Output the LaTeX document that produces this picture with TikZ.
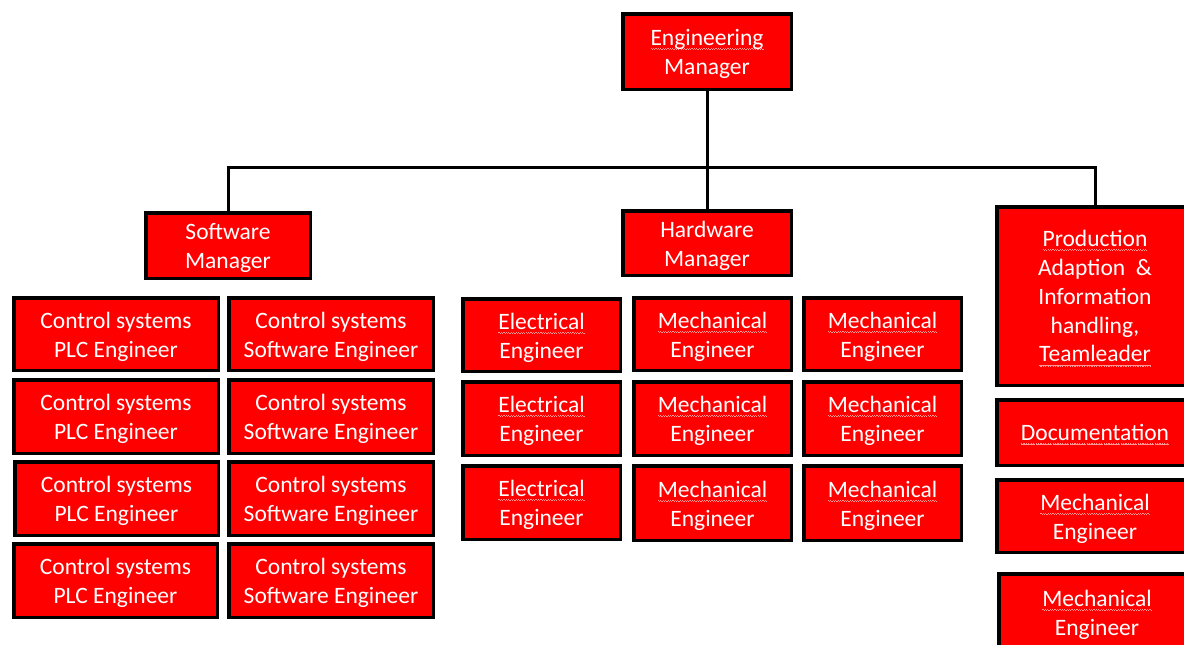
\documentclass[tikz,border=0pt]{standalone}
\usepackage{fontspec}
\newfontfamily\boxfont{Carlito}
\definecolor{boxred}{RGB}{255,0,0}
\definecolor{sqcol}{RGB}{255,150,150}
% spell-check style wavy underline, built from small stepped rules
\newcommand\sqw[1]{\setbox0\hbox{#1}\rlap{\textcolor{sqcol}{\hbox to \wd0{\xleaders\hbox{\vrule height -2.6pt depth 3.7pt width 1.2pt\vrule height -3.5pt depth 4.6pt width 1.2pt}\hfill}}}\box0}
\tikzset{
  box/.style={draw=black, line width=3.5pt, fill=boxred, inner sep=0pt},
  boxtext/.style={text=white, align=center, inner sep=0pt,
    font=\boxfont\fontsize{23.5}{28.8}\selectfont},
  conn/.style={draw=black, line width=3pt, line join=miter}
}
% \bx{name}{x1}{y1}{x2}{y2}{text}: box by its outer edges, label set a little low
\newcommand\bx[6]{\node[box, minimum width={#4pt-#2pt-3.5pt}, minimum height={#5pt-#3pt-3.5pt}]
  (#1) at ({(#2+#4)/2},{(#3+#5)/2}) {};
  \node[boxtext] (#1-t) at ([yshift=-2.5pt]#1.center) {#6};}
\begin{document}
\begin{tikzpicture}[x=1pt,y=-1pt]
\useasboundingbox (0,0) rectangle (1184,645);
\fill[white] (0,0) rectangle (1184,645);

% top level
\bx{em}{621}{12}{793}{91}{\sqw{Engineering}\\Manager}

% managers
\bx{sm}{144}{211}{312}{280}{Software\\Manager}
\bx{hm}{621}{209}{793}{277}{Hardware\\Manager}
\bx{pr}{995}{205}{1195}{387}{\sqw{Production}\\Adaption \ \&\\Information\\handling,\\\sqw{Teamleader}}

% software group
\bx{p1}{12}{296}{220}{372}{Control systems\\PLC Engineer}
\bx{s1}{227}{296}{435}{372}{Control systems\\Software Engineer}
\bx{p2}{12}{378}{220}{455}{Control systems\\PLC Engineer}
\bx{s2}{227}{378}{435}{455}{Control systems\\Software Engineer}
\bx{p3}{13}{460}{220}{537}{Control systems\\PLC Engineer}
\bx{s3}{227}{460}{435}{537}{Control systems\\Software Engineer}
\bx{p4}{12}{542}{219}{619}{Control systems\\PLC Engineer}
\bx{s4}{227}{542}{435}{619}{Control systems\\Software Engineer}

% hardware group
\bx{e1}{461}{297}{622}{373}{\sqw{Electrical}\\Engineer}
\bx{ma1}{632}{296}{793}{372}{\sqw{Mechanical}\\Engineer}
\bx{mb1}{802}{296}{963}{372}{\sqw{Mechanical}\\Engineer}
\bx{e2}{461}{380}{622}{457}{\sqw{Electrical}\\Engineer}
\bx{ma2}{632}{380}{793}{457}{\sqw{Mechanical}\\Engineer}
\bx{mb2}{802}{380}{963}{457}{\sqw{Mechanical}\\Engineer}
\bx{e3}{461}{464}{622}{541}{\sqw{Electrical}\\Engineer}
\bx{ma3}{632}{464}{793}{542}{\sqw{Mechanical}\\Engineer}
\bx{mb3}{802}{464}{963}{542}{\sqw{Mechanical}\\Engineer}

% production group
\bx{doc}{995}{398}{1195}{467}{\sqw{Documentation}}
\bx{pm1}{995}{478}{1195}{554}{\sqw{Mechanical}\\Engineer}
\bx{pm2}{997}{572}{1197}{652}{\sqw{Mechanical}\\Engineer}

% reporting lines
\coordinate (bus) at (0,167);
\draw[conn] (sm.north) |- (pr.north |- bus) -- (pr.north);
\draw[conn] (em.south) -- (hm.north);
\end{tikzpicture}
\end{document}
